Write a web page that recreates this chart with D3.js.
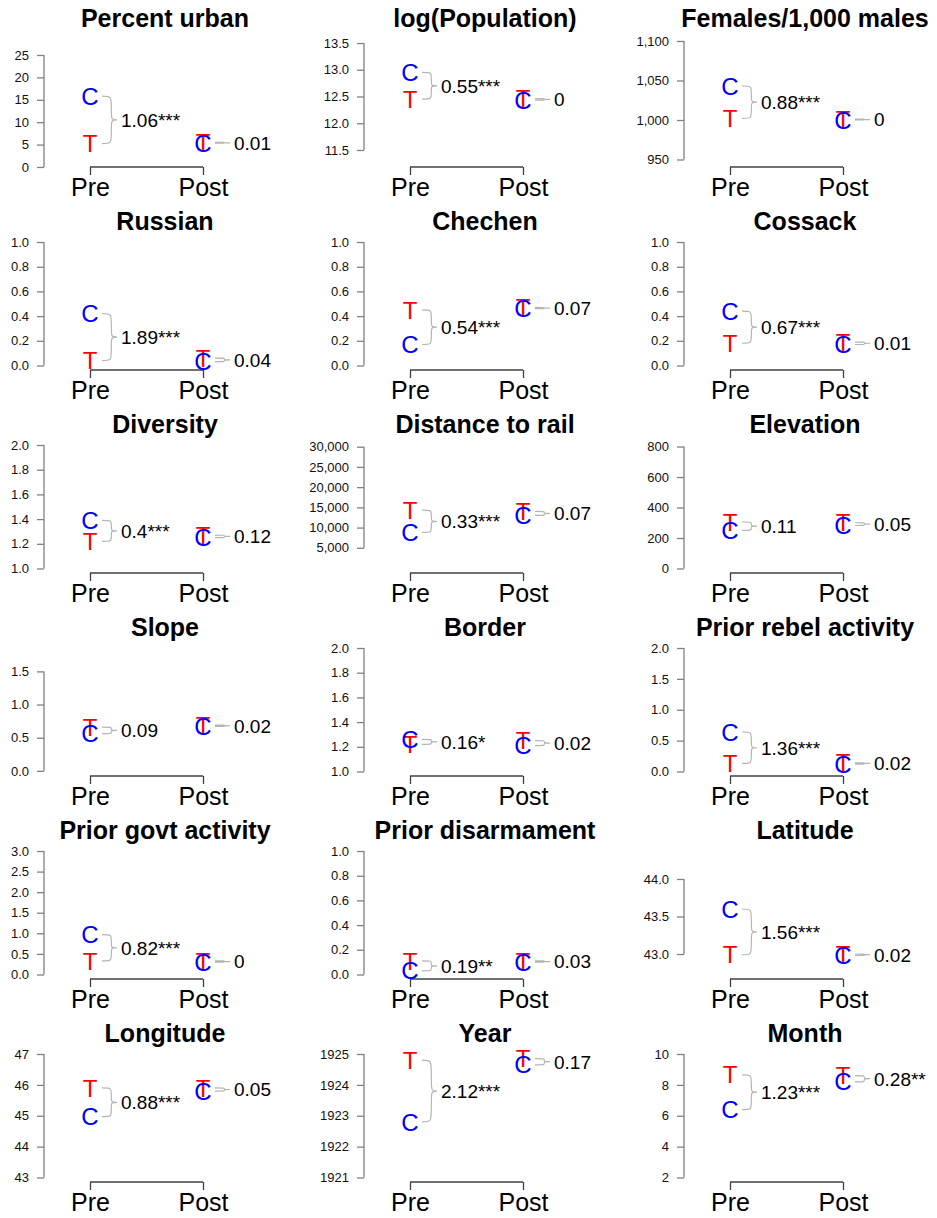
<!DOCTYPE html>
<html>
<head>
<meta charset="utf-8">
<script src="https://cdn.jsdelivr.net/npm/d3@7"></script>
<style>
  html, body { margin: 0; padding: 0; background: #fff; }
  svg { display: block; font-family: "Liberation Sans", Arial, sans-serif; }
</style>
</head>
<body>
<svg id="chart" width="937" height="1218"></svg>
<script>
// Covariate balance before and after matching: treated (T) vs control (C) means
const titles = ["Percent urban", "log(Population)", "Females/1,000 males",
  "Russian", "Chechen", "Cossack",
  "Diversity", "Distance to rail", "Elevation",
  "Slope", "Border", "Prior rebel activity",
  "Prior govt activity", "Prior disarmament", "Latitude",
  "Longitude", "Year", "Month"];

const preT  = [5.2, 12.45, 1002, 0.04, 0.45, 0.18, 1.22, 14300, 305, 0.66, 1.22, 0.13, 0.33, 0.11, 42.99, 45.9, 1924.8, 8.65];
const preC  = [15.8, 12.95, 1043, 0.42, 0.17, 0.44, 1.39, 8800, 250, 0.56, 1.26, 0.64, 0.97, 0.03, 43.6, 44.97, 1922.8, 6.4];
const postT = [5.5, 12.46, 1001, 0.06, 0.47, 0.19, 1.27, 14000, 300, 0.69, 1.25, 0.14, 0.33, 0.11, 43.0, 45.9, 1924.85, 8.6];
const postC = [5.3, 12.43, 1000, 0.03, 0.46, 0.17, 1.25, 13000, 282, 0.67, 1.21, 0.12, 0.30, 0.10, 42.98, 45.8, 1924.65, 8.2];

const preLabels  = ["1.06***", "0.55***", "0.88***", "1.89***", "0.54***", "0.67***",
  "0.4***", "0.33***", "0.11", "0.09", "0.16*", "1.36***",
  "0.82***", "0.19**", "1.56***", "0.88***", "2.12***", "1.23***"];
const postLabels = ["0.01", "0", "0", "0.04", "0.07", "0.01",
  "0.12", "0.07", "0.05", "0.02", "0.02", "0.02",
  "0", "0.03", "0.02", "0.05", "0.17", "0.28**"];

// y-limits of each panel
const yLo = [1.0, 11.266, 946.2, 0, 0, 0, 1, -120, 0, -0.01, 1, 0, 0, 0, 42.727, 43, 1921, 2];
const yHi = [28.57, 13.575, 1102.5, 1, 1, 1, 2, 30420, 810, 1.853, 2, 2, 3, 1, 44.373, 47, 1925, 10];

const yTicks = [
  [0, 5, 10, 15, 20, 25],
  [11.5, 12, 12.5, 13, 13.5],
  [950, 1000, 1050, 1100],
  [0, 0.2, 0.4, 0.6, 0.8, 1],
  [0, 0.2, 0.4, 0.6, 0.8, 1],
  [0, 0.2, 0.4, 0.6, 0.8, 1],
  [1, 1.2, 1.4, 1.6, 1.8, 2],
  [5000, 10000, 15000, 20000, 25000, 30000],
  [0, 200, 400, 600, 800],
  [0, 0.5, 1, 1.5],
  [1, 1.2, 1.4, 1.6, 1.8, 2],
  [0, 0.5, 1, 1.5, 2],
  [0, 0.5, 1, 1.5, 2, 2.5, 3],
  [0, 0.2, 0.4, 0.6, 0.8, 1],
  [43, 43.5, 44],
  [43, 44, 45, 46, 47],
  [1921, 1922, 1923, 1924, 1925],
  [2, 4, 6, 8, 10]
];
const tickFormats = ["d", ".1f", ",", ".1f", ".1f", ".1f", ".1f", ",", "d", ".1f", ".1f", ".1f",
  ".1f", ".1f", ".1f", "d", "d", "d"];

const periods = ["Pre", "Post"];

// layout
const colW = 320, rowH = 203;
const axisX = 44, plotTop = 39, plotBottom = 162.5, xAxisY = 167;
const braceW = 15, braceGap = 12;
const colT = "#ff0000", colC = "#0000ff", braceCol = "#b4b4b4";

const svg = d3.select("#chart");

function bracePath(x0, y1, y2, w) {
  const ym = (y1 + y2) / 2, xa = x0 + w * 0.62, xb = x0 + w;
  const q1 = (y1 + ym) / 2, q2 = (y2 + ym) / 2;
  return `M${x0},${y1} C${xa},${y1} ${xa},${y1} ${xa},${q1} C${xa},${ym} ${xa},${ym} ${xb},${ym}` +
         `M${x0},${y2} C${xa},${y2} ${xa},${y2} ${xa},${q2} C${xa},${ym} ${xa},${ym} ${xb},${ym}`;
}

titles.forEach((title, i) => {
  const col = i % 3, row = Math.floor(i / 3);
  const g = svg.append("g").attr("transform", `translate(${col * colW},${row * rowH})`);

  const x = d3.scaleLinear().domain([0, 1]).range([90, 203]);
  const y = d3.scaleLinear().domain([yLo[i], yHi[i]]).range([plotBottom, plotTop]);

  // title
  g.append("text")
    .attr("x", 165).attr("y", 27)
    .attr("text-anchor", "middle")
    .attr("font-weight", "bold")
    .attr("font-size", 25)
    .attr("fill", "#000")
    .text(title);

  // y axis
  const ticks = yTicks[i];
  const yAxis = d3.axisLeft(y).tickValues(ticks).tickFormat(d3.format(tickFormats[i]))
    .tickSize(7).tickSizeOuter(0).tickPadding(8);
  const ya = g.append("g").attr("transform", `translate(${axisX},0)`).call(yAxis);
  ya.select(".domain").remove();
  ya.append("line")
    .attr("x1", 0).attr("x2", 0)
    .attr("y1", y(ticks[0])).attr("y2", y(ticks[ticks.length - 1]))
    .attr("stroke", "#808080").attr("stroke-width", 1.3);
  ya.selectAll(".tick line").attr("stroke", "#808080").attr("stroke-width", 1.3);
  ya.selectAll(".tick text").attr("font-size", 13).attr("fill", "#111")
    .attr("font-family", "Liberation Sans, Arial, sans-serif");

  // x axis (Pre / Post)
  const xAxis = d3.axisBottom(x).tickValues([0, 1]).tickFormat(d => periods[d])
    .tickSize(8).tickSizeOuter(0).tickPadding(3);
  const xa = g.append("g").attr("transform", `translate(0,${xAxisY})`).call(xAxis);
  xa.select(".domain").remove();
  xa.append("line").attr("x1", x(0)).attr("x2", x(1)).attr("y1", 0).attr("y2", 0)
    .attr("stroke", "#404040").attr("stroke-width", 1.3);
  xa.selectAll(".tick line").attr("stroke", "#404040").attr("stroke-width", 1.3);
  xa.selectAll(".tick text").attr("font-size", 25).attr("fill", "#000")
    .attr("font-family", "Liberation Sans, Arial, sans-serif");

  // T / C means with braces and standardized differences
  const groups = [
    { p: 0, t: preT[i], c: preC[i], label: preLabels[i] },
    { p: 1, t: postT[i], c: postC[i], label: postLabels[i] }
  ];
  groups.forEach(d => {
    const px = x(d.p);
    const x0 = px + braceGap;
    g.append("path")
      .attr("d", bracePath(x0, y(d.c), y(d.t), braceW))
      .attr("fill", "none").attr("stroke", braceCol).attr("stroke-width", 1.2);
    g.append("text")
      .attr("x", px).attr("y", y(d.t)).attr("dy", "0.36em")
      .attr("text-anchor", "middle").attr("font-size", 24).attr("fill", colT)
      .text("T");
    g.append("text")
      .attr("x", px).attr("y", y(d.c)).attr("dy", "0.36em")
      .attr("text-anchor", "middle").attr("font-size", 24).attr("fill", colC)
      .text("C");
    g.append("text")
      .attr("x", x0 + braceW + 4).attr("y", (y(d.t) + y(d.c)) / 2).attr("dy", "0.36em")
      .attr("font-size", 19).attr("fill", "#000")
      .text(d.label);
  });
});
</script>
</body>
</html>
